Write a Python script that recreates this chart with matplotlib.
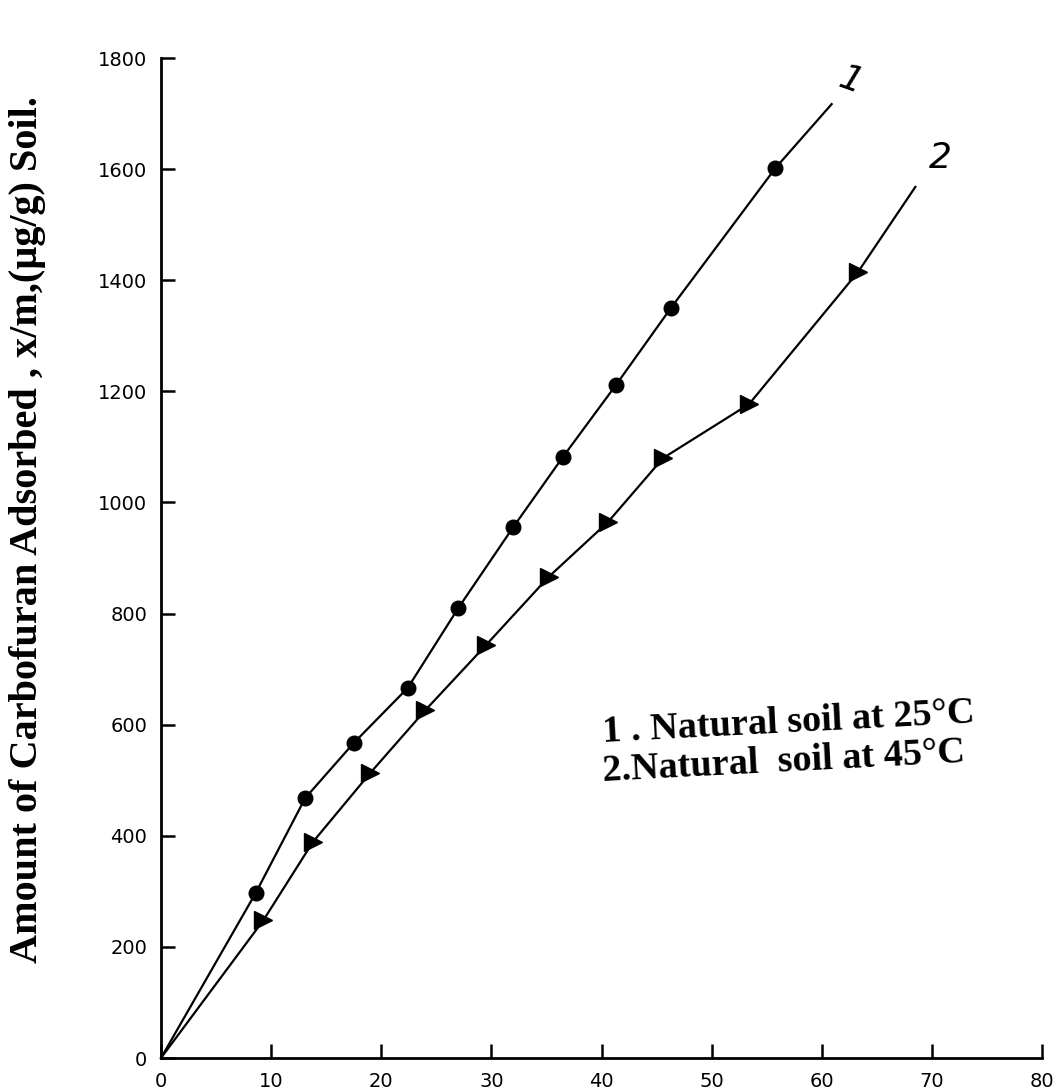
import matplotlib
matplotlib.use("Agg")
import matplotlib.pyplot as plt

# ---- data ----
conc_25 = [8.6, 13.1, 17.5, 22.4, 27.0, 32.0, 36.5, 41.3, 46.3, 55.8]
ads_25 = [297, 468, 567, 666, 810, 956, 1082, 1211, 1350, 1602]
line_end_25 = (60.9, 1717)

conc_45 = [9.3, 13.8, 19.0, 24.0, 29.5, 35.2, 40.6, 45.6, 53.4, 63.3]
ads_45 = [248, 389, 513, 626, 743, 866, 965, 1080, 1177, 1415]
line_end_45 = (68.5, 1568)

x_ticks = [0, 10, 20, 30, 40, 50, 60, 70, 80]
y_ticks = [0, 200, 400, 600, 800, 1000, 1200, 1400, 1600, 1800]

legend_lines = ["1 . Natural soil at 25°C", "2.Natural  soil at 45°C"]
y_label = "Amount of Carbofuran Adsorbed , x/m,(µg/g) Soil."

# ---- figure ----
fig = plt.figure(figsize=(10.6, 10.92), dpi=100)
ax = fig.add_axes([161/1060, 1 - 1058/1092, (1042-161)/1060, (1058-58)/1092])
ax.set_xlim(0, 80)
ax.set_ylim(0, 1800)

for s in ("top", "right"):
    ax.spines[s].set_visible(False)
for s in ("left", "bottom"):
    ax.spines[s].set_linewidth(2.0)
    ax.spines[s].set_color("black")

ax.set_xticks(x_ticks)
ax.set_yticks(y_ticks)
ax.tick_params(axis="both", direction="in", length=10, width=1.8, colors="black",
               labelsize=14, pad=10)

# curve 1
lx1 = [0] + conc_25 + [line_end_25[0]]
ly1 = [0] + ads_25 + [line_end_25[1]]
ax.plot(lx1, ly1, color="black", lw=1.6, clip_on=False)
ax.plot(conc_25, ads_25, "o", color="black", ms=10.5, clip_on=False)

# curve 2
lx2 = [0] + conc_45 + [line_end_45[0]]
ly2 = [0] + ads_45 + [line_end_45[1]]
ax.plot(lx2, ly2, color="black", lw=1.6, clip_on=False)
ax.plot(conc_45, ads_45, ">", color="black", ms=12.5, clip_on=False)

# hand labels at line ends
ax.text(62.6, 1760, "1", fontsize=26, style="italic", ha="center", va="center",
        rotation=-20, clip_on=False)
ax.text(70.8, 1620, "2", fontsize=26, style="italic", ha="center", va="center",
        clip_on=False)

# legend text (slightly rotated)
serif = ["Liberation Serif", "DejaVu Serif"]
fig.text(603/1060, 1 - 733/1092, legend_lines[0], family=serif, weight="bold",
         fontsize=27.5, ha="left", va="center", rotation=3, rotation_mode="anchor")
fig.text(603/1060, 1 - 772/1092, legend_lines[1], family=serif, weight="bold",
         fontsize=27.5, ha="left", va="center", rotation=3, rotation_mode="anchor")

# y label
fig.text(28/1060, 1 - 530/1092, y_label, family=serif, weight="bold",
         fontsize=29, ha="center", va="center", rotation=90)

fig.savefig("out.png", dpi=100)
